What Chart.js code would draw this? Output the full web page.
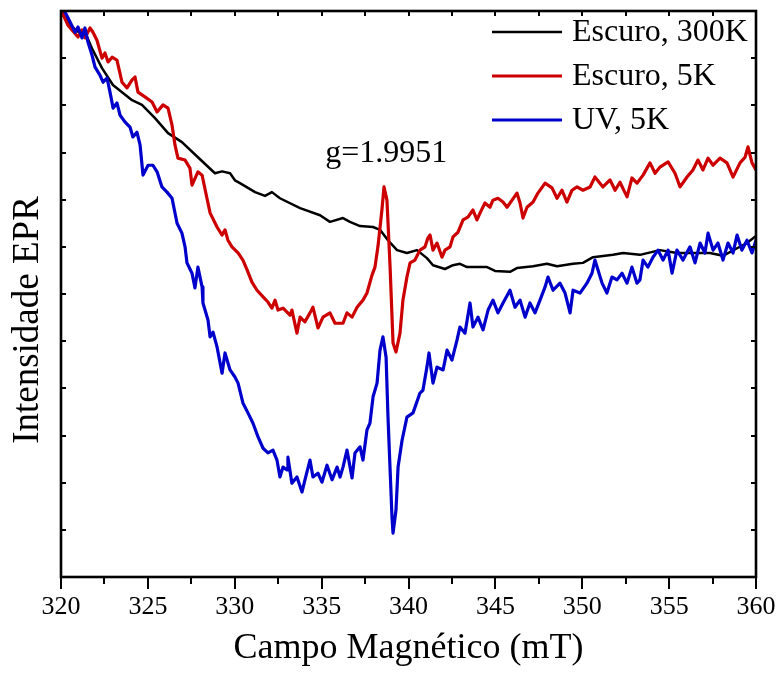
<!DOCTYPE html>
<html>
<head>
<meta charset="utf-8">
<title>Intensidade EPR</title>
<script src="https://cdn.jsdelivr.net/npm/chart.js@4/dist/chart.umd.min.js"></script>
<style>
  html, body { margin: 0; padding: 0; background: #ffffff; }
  #wrap { width: 780px; height: 673px; }
</style>
</head>
<body>
<div id="wrap"><canvas id="c" width="780" height="673"></canvas></div>
<script>
// Magnetic field (mT) and EPR signal (arb. units) for each spectrum
const dark300Field = [320.00,320.81,321.50,321.78,322.36,322.99,324.09,324.66,325.41,326.16,326.96,327.88,328.86,329.27,329.73,330.01,330.30,331.17,331.74,332.14,332.60,333.76,334.91,335.48,336.23,336.63,337.21,337.96,338.36,338.82,339.34,339.91,340.49,341.06,341.41,342.10,342.56,342.96,343.37,344.52,344.98,345.84,346.24,347.17,347.97,348.55,349.47,350.04,350.62,351.77,352.35,353.32,354.47,355.45,356.78,357.35,358.10,358.91,359.48,360.00];
const dark300Signal = [11.96,11.60,11.45,11.21,10.79,10.43,10.11,10.01,9.73,9.41,9.22,8.90,8.56,8.60,8.56,8.41,8.35,8.16,8.08,8.16,8.03,7.82,7.67,7.53,7.61,7.53,7.44,7.42,7.36,7.14,6.93,6.87,6.93,6.76,6.61,6.53,6.61,6.64,6.57,6.57,6.49,6.47,6.55,6.59,6.64,6.59,6.64,6.66,6.78,6.83,6.87,6.83,6.93,6.87,6.87,6.87,6.81,6.97,7.08,7.23];

const dark5Field = [320.00,320.40,320.63,320.98,321.21,321.38,321.67,321.84,322.07,322.36,322.53,322.71,322.94,323.22,323.51,323.80,324.09,324.26,324.43,324.83,325.24,325.53,325.87,326.16,326.39,326.56,326.73,327.14,327.42,327.54,327.88,328.12,328.40,328.58,328.98,329.27,329.44,329.61,329.84,330.19,330.47,330.71,330.99,331.28,331.63,331.91,332.14,332.32,332.49,332.78,333.18,333.29,333.58,333.76,334.04,334.33,334.50,334.79,335.08,335.48,335.77,336.06,336.23,336.46,336.75,337.04,337.38,337.61,337.90,338.07,338.24,338.47,338.59,338.76,338.94,339.11,339.28,339.51,339.68,339.91,340.09,340.37,340.66,340.95,341.12,341.24,341.41,341.64,341.93,342.10,342.39,342.56,342.85,343.14,343.42,343.71,343.94,344.12,344.40,344.69,344.86,345.15,345.44,345.67,345.96,346.24,346.42,346.59,346.82,347.17,347.45,347.86,348.26,348.55,348.83,349.12,349.41,349.70,350.04,350.45,350.73,351.19,351.60,351.89,352.17,352.58,352.86,353.15,353.50,353.90,354.19,354.47,354.94,355.34,355.63,356.03,356.37,356.66,356.95,357.24,357.53,357.93,358.33,358.68,359.08,359.37,359.54,359.77,360.00];
const dark5Signal = [12.02,11.70,11.60,11.45,11.60,11.43,11.64,11.55,11.38,11.00,11.11,10.92,11.02,10.96,10.49,10.37,10.54,10.60,10.28,10.18,10.07,9.86,10.01,9.94,9.58,9.16,8.88,8.84,8.67,8.31,8.59,8.52,8.03,7.72,7.42,7.25,7.36,7.14,7.00,6.87,6.72,6.51,6.25,6.08,5.94,5.83,5.70,5.87,5.66,5.70,5.55,5.66,5.17,5.51,5.41,5.60,5.72,5.28,5.51,5.60,5.38,5.38,5.38,5.60,5.51,5.72,5.87,6.02,6.40,6.57,7.00,7.78,8.27,7.99,6.57,4.96,4.77,5.17,5.87,6.36,6.66,6.72,6.93,7.00,7.19,7.25,6.93,7.08,6.78,6.93,7.00,7.21,7.31,7.57,7.63,7.78,7.57,7.72,7.93,7.84,7.99,8.03,7.95,7.84,7.99,8.14,7.93,7.61,7.84,7.95,8.14,8.35,8.25,8.03,8.20,7.95,8.20,8.27,8.20,8.27,8.48,8.27,8.42,8.20,8.37,8.06,8.46,8.35,8.52,8.78,8.56,8.69,8.80,8.56,8.27,8.48,8.63,8.84,8.63,8.88,8.73,8.88,8.78,8.48,8.78,8.90,9.12,8.78,8.63];

const uv5Field = [320.17,320.52,320.81,320.98,321.21,321.38,321.55,321.78,321.96,322.24,322.42,322.65,322.82,323.00,323.22,323.40,323.68,323.97,324.14,324.37,324.55,324.72,325.01,325.29,325.53,325.81,326.10,326.39,326.68,326.96,327.14,327.25,327.54,327.71,327.88,328.12,328.17,328.46,328.58,328.75,328.98,329.27,329.44,329.73,330.01,330.19,330.47,330.76,331.05,331.34,331.63,331.91,332.20,332.43,332.60,332.78,333.01,333.06,333.29,333.58,333.87,334.04,334.33,334.50,334.79,335.02,335.31,335.60,335.89,336.06,336.23,336.46,336.75,336.92,337.21,337.38,337.61,337.78,337.96,338.19,338.36,338.53,338.71,338.82,339.05,339.11,339.28,339.40,339.63,339.91,340.26,340.66,340.83,341.06,341.18,341.41,341.64,341.99,342.22,342.50,342.79,342.96,343.25,343.54,343.71,344.00,344.29,344.58,344.86,345.15,345.44,345.84,346.13,346.42,346.71,346.99,347.28,347.57,347.86,348.03,348.32,348.72,349.01,349.30,349.47,349.87,350.27,350.56,350.73,351.14,351.42,351.71,352.00,352.29,352.58,352.86,353.15,353.32,353.50,353.78,354.07,354.36,354.65,354.94,355.17,355.45,355.80,356.20,356.49,356.78,357.06,357.24,357.53,357.81,358.10,358.39,358.68,358.91,359.19,359.48,359.77,360.00];
const uv5Signal = [12.02,11.77,11.55,11.66,11.43,11.64,11.34,11.07,10.81,10.64,10.49,10.58,10.28,9.94,10.05,9.79,9.65,9.54,9.33,9.43,9.16,8.52,8.73,8.73,8.59,8.27,8.16,8.03,7.50,7.29,7.00,6.66,6.44,6.13,6.57,6.15,5.81,5.45,5.09,5.19,4.88,4.32,4.75,4.39,4.24,4.11,3.69,3.48,3.26,2.97,2.73,2.63,2.69,2.48,2.12,2.33,2.27,2.54,1.99,2.12,1.80,2.06,2.48,2.12,2.20,2.01,2.37,2.06,2.33,2.12,2.33,2.69,2.10,2.63,2.76,2.48,3.12,3.26,3.82,4.11,4.81,5.09,4.66,3.39,1.27,0.93,1.42,2.33,2.90,3.39,3.48,3.90,3.96,4.45,4.75,4.11,4.45,4.39,4.81,4.60,5.02,5.30,5.17,5.81,5.30,5.51,5.24,5.66,5.87,5.60,5.81,6.08,5.72,5.87,5.51,5.81,5.60,5.87,6.15,6.36,6.08,6.23,6.02,5.60,6.08,6.02,6.23,6.44,6.72,6.23,6.02,6.36,6.30,6.44,6.23,6.57,6.23,6.30,6.72,6.57,6.78,6.93,6.72,6.93,6.44,6.93,6.72,7.00,6.66,7.08,6.87,7.29,6.93,7.08,6.72,7.08,6.87,7.25,6.93,7.14,6.87,7.14];

const seriesNames = ['Escuro, 300K', 'Escuro, 5K', 'UV, 5K'];
const seriesColors = ['#000000', '#cc0000', '#0000cc'];
const fieldTicks = [320, 325, 330, 335, 340, 345, 350, 355, 360];
const yTitle = 'Intensidade EPR';
const peakLabel = 'g=1.9951';
const peakField = 338.6;

const SERIF = '"Liberation Serif", "Times New Roman", serif';

function toPoints(xs, ys) {
  return xs.map((x, i) => ({ x: x, y: ys[i] }));
}

// Frame, tick marks, intensity title, legend and the g-factor label
const decorations = {
  id: 'decorations',
  afterDatasetsDraw(chart) {
    const { ctx, chartArea: a, scales: { x, y } } = chart;
    ctx.save();
    ctx.strokeStyle = '#000';
    ctx.lineCap = 'butt';

    // ticks on the field axis (bottom outward, top inward)
    ctx.lineWidth = 2;
    for (let v = 320; v <= 360.001; v += 2.5) {
      const px = Math.round(x.getPixelForValue(v));
      const major = Math.abs(v / 5 - Math.round(v / 5)) < 1e-6;
      ctx.beginPath();
      ctx.moveTo(px, a.bottom);
      ctx.lineTo(px, a.bottom + (major ? 12 : 7));
      ctx.moveTo(px, a.top);
      ctx.lineTo(px, a.top + 5);
      ctx.stroke();
    }
    // ticks on the intensity axis (both sides inward)
    for (let v = 1; v < 12; v += 1) {
      const py = Math.round(y.getPixelForValue(v));
      ctx.beginPath();
      ctx.moveTo(a.left, py);
      ctx.lineTo(a.left + 5, py);
      ctx.moveTo(a.right, py);
      ctx.lineTo(a.right - 5, py);
      ctx.stroke();
    }

    // frame
    ctx.lineWidth = 2.6;
    ctx.strokeRect(a.left, a.top, a.right - a.left, a.bottom - a.top);

    // intensity axis title
    ctx.fillStyle = '#000';
    ctx.font = '37px ' + SERIF;
    ctx.textAlign = 'center';
    ctx.textBaseline = 'alphabetic';
    ctx.save();
    ctx.translate(38, 320);
    ctx.rotate(-Math.PI / 2);
    ctx.fillText(yTitle, 0, 0);
    ctx.restore();

    // legend
    const rows = [32, 76, 120];
    ctx.font = '32px ' + SERIF;
    ctx.textBaseline = 'middle';
    ctx.textAlign = 'left';
    seriesNames.forEach((name, i) => {
      ctx.strokeStyle = seriesColors[i];
      ctx.lineWidth = i === 0 ? 2.6 : 3;
      ctx.beginPath();
      ctx.moveTo(492, rows[i]);
      ctx.lineTo(562, rows[i]);
      ctx.stroke();
      ctx.fillStyle = '#000';
      ctx.fillText(name, 572, rows[i] + 1);
    });

    // g-factor label above the resonance
    ctx.font = '32px ' + SERIF;
    ctx.textAlign = 'center';
    ctx.textBaseline = 'alphabetic';
    ctx.fillText(peakLabel, x.getPixelForValue(peakField) + 2, 162);
    ctx.restore();
  }
};

new Chart(document.getElementById('c'), {
  type: 'line',
  data: {
    datasets: [
      { label: seriesNames[0], data: toPoints(dark300Field, dark300Signal), borderColor: seriesColors[0], borderWidth: 2.5, order: 3 },
      { label: seriesNames[1], data: toPoints(dark5Field, dark5Signal), borderColor: seriesColors[1], borderWidth: 3.2, order: 2 },
      { label: seriesNames[2], data: toPoints(uv5Field, uv5Signal), borderColor: seriesColors[2], borderWidth: 3.2, order: 1 }
    ]
  },
  options: {
    responsive: false,
    animation: false,
    devicePixelRatio: 1,
    elements: {
      point: { radius: 0, hoverRadius: 0 },
      line: { tension: 0, fill: false, borderJoinStyle: 'round', borderCapStyle: 'round' }
    },
    layout: { padding: { top: 11, right: 24, left: 0, bottom: 0 } },
    plugins: {
      legend: { display: false },
      tooltip: { enabled: false }
    },
    scales: {
      x: {
        type: 'linear',
        min: 320,
        max: 360,
        afterBuildTicks(scale) { scale.ticks = fieldTicks.map(v => ({ value: v })); },
        ticks: {
          color: '#000',
          font: { family: SERIF, size: 26 },
          padding: 15,
          maxRotation: 0,
          autoSkip: false
        },
        grid: { display: false, drawTicks: false },
        border: { display: false },
        title: {
          display: true,
          text: 'Campo Magnético (mT)',
          color: '#000',
          font: { family: SERIF, size: 36 },
          padding: { top: 0, bottom: 3 }
        },
        afterFit(scale) {
          scale.height = 96;
          scale.paddingLeft = 0;
          scale.paddingRight = 0;
        }
      },
      y: {
        type: 'linear',
        min: 0,
        max: 12,
        ticks: { display: false },
        grid: { display: false, drawTicks: false },
        border: { display: false },
        title: { display: false },
        afterFit(scale) { scale.width = 61; }
      }
    }
  },
  plugins: [decorations]
});
</script>
</body>
</html>
